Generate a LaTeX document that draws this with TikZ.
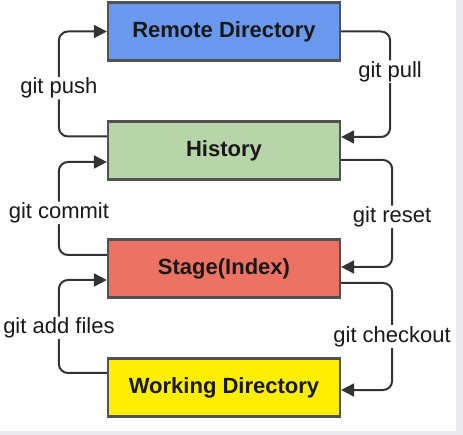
\documentclass[tikz,border=0pt]{standalone}
\usepackage{fontspec}
\setmainfont{Liberation Sans}
\usetikzlibrary{arrows.meta}
\definecolor{cremote}{HTML}{6A98EE}
\definecolor{chist}{HTML}{B7D5A8}
\definecolor{cstage}{HTML}{EC7264}
\definecolor{cwork}{HTML}{FFEE00}
\definecolor{cline}{HTML}{333333}
\definecolor{cstrip}{HTML}{EBEBED}
\tikzset{
  box/.style={draw=cline!85, line width=2.2pt, minimum width=232pt, minimum height=58pt,
    inner sep=0pt, font=\fontsize{22}{25}\selectfont\bfseries, text=black!90},
  conn/.style={draw=cline, line width=2pt, rounded corners=9pt,
    -{Triangle[length=13pt,width=13pt]}},
  lbl/.style={fill=white, inner sep=1pt, font=\fontsize{22}{25}\selectfont, text=black!90}
}
\begin{document}
\begin{tikzpicture}[x=1pt,y=-1pt]
\useasboundingbox (0,0) rectangle (463,435);
\fill[cstrip] (456,0) rectangle (463,435);
\fill[cstrip] (0,431) rectangle (463,435);
\node[box, fill=cremote] (remote) at (224,31.5) {Remote Directory};
\node[box, fill=chist] (hist) at (224,150.5) {History};
\node[box, fill=cstage] (stage) at (224,268.5) {Stage(Index)};
\node[box, fill=cwork] (work) at (224,387.5) {Working Directory};
% left side
\draw[conn] ([yshift=14pt]hist.west) -- ++(-48,0) |- (remote.west)
  node[pos=0.23, lbl] {git push};
\draw[conn] ([yshift=13.5pt]stage.west) -- ++(-48,0) |- ([yshift=-11.5pt]hist.west)
  node[pos=0.226, lbl] {git commit};
\draw[conn] ([yshift=14.5pt]work.west) -- ++(-48,0) |- ([yshift=-11.5pt]stage.west)
  node[pos=0.242, lbl] {git add files};
% right side
\draw[conn] (remote.east) -- ++(49,0) |- ([yshift=13.5pt]hist.east)
  node[pos=0.19, lbl] {git pull};
\draw[conn] ([yshift=-9.5pt]hist.east) -- ++(51,0) |- ([yshift=1.5pt]stage.east)
  node[pos=0.266, lbl] {git reset};
\draw[conn] ([yshift=-14.5pt]stage.east) -- ++(51,0) |- ([yshift=-2.5pt]work.east)
  node[pos=0.25, lbl] {git checkout};
\end{tikzpicture}
\end{document}
